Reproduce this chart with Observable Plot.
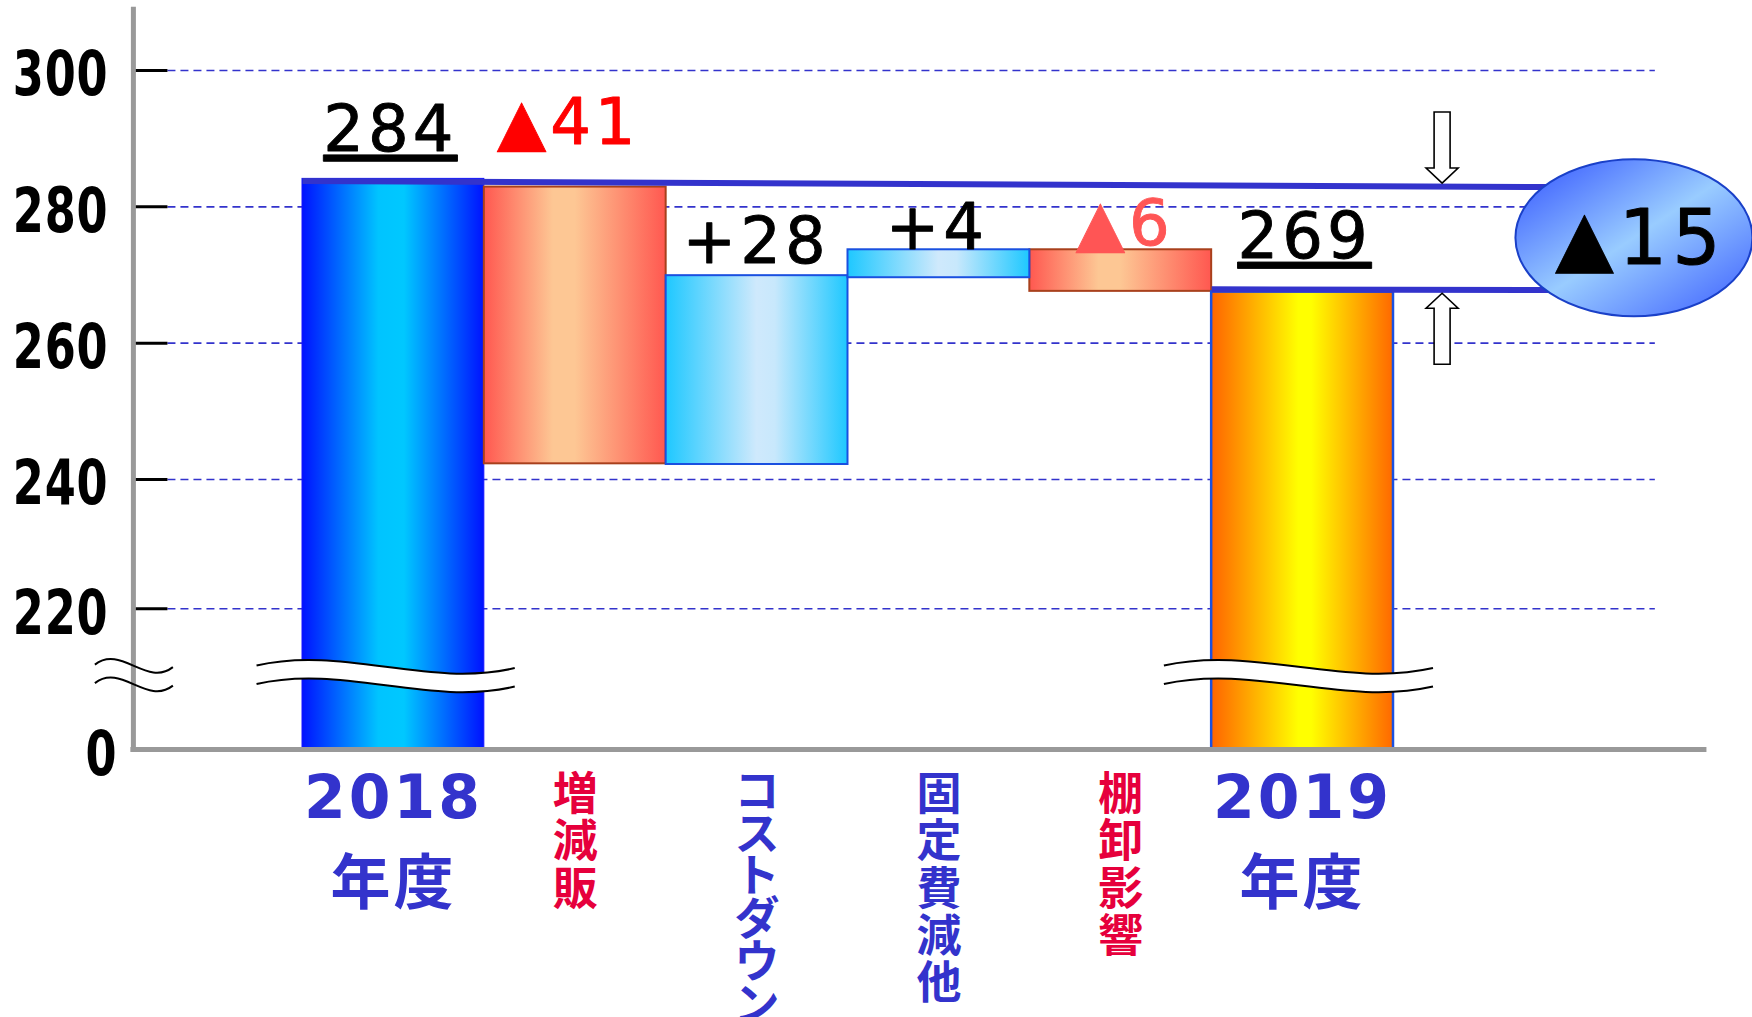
<!DOCTYPE html>
<html><head><meta charset="utf-8">
<script src="https://cdn.jsdelivr.net/npm/d3@7"></script>
<script src="https://cdn.jsdelivr.net/npm/@observablehq/plot@0.6"></script>
<style>
html,body{margin:0;padding:0;background:#fff;}
#chart svg{display:block}
</style></head>
<body>
<svg width="0" height="0" style="position:absolute"><defs>
  <linearGradient id="gStart" x1="0" y1="0" x2="1" y2="0">
    <stop offset="0" stop-color="#0012ff"/><stop offset="0.42" stop-color="#00c4ff"/>
    <stop offset="0.56" stop-color="#00c8ff"/><stop offset="1" stop-color="#0012ff"/>
  </linearGradient>
  <linearGradient id="gRed" x1="0" y1="0" x2="1" y2="0">
    <stop offset="0" stop-color="#ff5850"/><stop offset="0.38" stop-color="#fdc794"/>
    <stop offset="0.5" stop-color="#fdc794"/><stop offset="1" stop-color="#ff5850"/>
  </linearGradient>
  <linearGradient id="gCyan" x1="0" y1="0" x2="1" y2="0">
    <stop offset="0" stop-color="#1ec8ff"/><stop offset="0.5" stop-color="#cfe9fc"/>
    <stop offset="0.6" stop-color="#c8e8fc"/><stop offset="1" stop-color="#1ec8ff"/>
  </linearGradient>
  <linearGradient id="gEnd" x1="0" y1="0" x2="1" y2="0">
    <stop offset="0" stop-color="#ff6400"/><stop offset="0.48" stop-color="#ffff00"/>
    <stop offset="0.55" stop-color="#ffff00"/><stop offset="1" stop-color="#ff6800"/>
  </linearGradient>
  <linearGradient id="gEllipse" x1="0" y1="0" x2="1" y2="1">
    <stop offset="0" stop-color="#3050ff"/><stop offset="0.5" stop-color="#99ccff"/>
    <stop offset="1" stop-color="#3a5cff"/>
  </linearGradient>
</defs></svg>
<div id="chart"></div>
<script>
// ---------- data ----------
const categories  = ["2018年度", "増減販", "コストダウン", "固定費減他", "棚卸影響", "2019年度"];
const barFrom     = [0, 282.9, 242.2, 269.6, 273.7, 0];
const barTo       = [284.1, 242.3, 269.9, 273.7, 267.6, 267.5];
const barKind     = ["start", "decrease", "increase", "increase", "decrease", "end"];
const valueLabels = ["284", "▲41", "+28", "+4", "▲6", "269"];
const yTickValues = [0, 220, 240, 260, 280, 300];
const gridValues  = [220, 240, 260, 280, 300];
const totalChangeLabel = "▲15";
const compareFrom = [283.8, 267.9];   // comparison lines: level at the start bar / end bar
const compareTo   = [282.9, 267.8];   // level where they enter the ellipse

// ---------- layout (x in category-index units, y in value units) ----------
const axisX = -0.93, tickEnd = -0.74, gridEnd = 7.44, xAxisEnd = 7.71, axisTop = 308.9;
const lineEnd = 6.85;
const compareStartX = [0, 5];
const ellipse = {x: 7.325, y: 275.4, rx: 118.5, ry: 78.5};
const arrowX = 6.27;
const breakY = 114;
const barBreaks = [[-0.25, 1.17], [4.74, 6.22]];
const labelDx = [-3, -7, -1, -2, 4, 2];
const labelDy = [-28, -43, -13, -1, -5, -34];
const labelColor = ["#000", "#ff0000", "#000", "#000", "#ff5555", "#000"];
const catLineHeight = [1.43, 1.05, 0.95, 1.05, 1.05, 1.43];

const steps = categories.map((name, i) => ({name, i, from: barFrom[i], to: barTo[i], kind: barKind[i], label: valueLabels[i]}));

const barStyle = {
  start:    {fill: "url(#gStart)", stroke: "#1414ff", strokeWidth: 1},
  decrease: {fill: "url(#gRed)",   stroke: "#a8401c", strokeWidth: 2},
  increase: {fill: "url(#gCyan)",  stroke: "#1a50e0", strokeWidth: 2},
  end:      {fill: "url(#gEnd)",   stroke: "#1a50e0", strokeWidth: 2.5}
};

const catText = d => /^\d/.test(d.name) ? d.name.replace("年度", "\n年度") : [...d.name].join("\n");
const blue = "#3333cc", crimson = "#e6003c";
const tickFont = "DejaVu Sans Condensed, DejaVu Sans";

const marks = [
  Plot.ruleY(gridValues, {x1: tickEnd, x2: gridEnd, stroke: blue, strokeWidth: 1.6, strokeDasharray: "8,5"}),
  Plot.ruleY(gridValues, {x1: axisX, x2: tickEnd, stroke: "#000", strokeWidth: 3}),
  ...Object.entries(barStyle).map(([kind, s]) =>
    Plot.rect(steps.filter(d => d.kind === kind), {x1: d => d.i, x2: d => d.i + 1, y1: "from", y2: "to", ...s})),
  Plot.link([0, 1], {
    x1: j => compareStartX[j], y1: j => compareFrom[j], x2: () => lineEnd, y2: j => compareTo[j],
    stroke: blue, strokeWidth: 6
  }),
  Plot.ruleX([axisX], {y1: 0, y2: axisTop, stroke: "#999", strokeWidth: 5, strokeLinecap: "square"}),
  Plot.ruleY([0], {x1: axisX, x2: xAxisEnd, stroke: "#999", strokeWidth: 5, strokeLinecap: "square"}),
  Plot.text(yTickValues.filter(v => v > 0), {
    x: () => axisX, y: d => d, text: d => String(d), textAnchor: "end", dx: -25, dy: 5,
    fontSize: 62, fontWeight: "bold", fontFamily: tickFont, fill: "#000", ariaDescription: "ytick"
  }),
  Plot.text(yTickValues.filter(v => v === 0), {
    x: () => axisX, y: d => d, text: d => String(d), textAnchor: "end", dx: -16, dy: 6,
    fontSize: 62, fontWeight: "bold", fontFamily: tickFont, fill: "#000", ariaDescription: "ytick"
  }),
  ...steps.map((s, i) => Plot.text([s], {
    x: d => d.i + 0.5, y: d => Math.max(d.from, d.to), text: "label", lineAnchor: "bottom",
    dx: labelDx[i], dy: labelDy[i], fill: labelColor[i], stroke: labelColor[i], strokeWidth: 0.9,
    fontSize: 64, fontFamily: "DejaVu Sans",
    ariaDescription: (s.kind === "start" || s.kind === "end") ? "value-underlined" : "value"
  })),
  ...steps.map((s, i) => {
    const isYear = s.kind === "start" || s.kind === "end";
    return Plot.text([s], {
      x: d => d.i + 0.5, text: catText, frameAnchor: "bottom", lineAnchor: "top",
      dy: isYear ? 8 : 27, lineHeight: catLineHeight[i],
      fill: s.kind === "decrease" ? crimson : blue,
      fontSize: isYear ? 60 : 45, fontWeight: "bold",
      fontFamily: isYear ? "DejaVu Sans, Noto Sans CJK JP" : "Noto Sans CJK JP",
      ariaDescription: isYear ? "year" : "category"
    });
  }),
  Plot.text([totalChangeLabel], {
    x: () => ellipse.x, y: () => ellipse.y, text: d => d, lineAnchor: "middle", dx: 6, dy: 1,
    fill: "#000", stroke: "#000", strokeWidth: 1, fontSize: 76, fontFamily: "DejaVu Sans", ariaDescription: "delta"
  })
];

const plot = Plot.plot({
  width: 1752, height: 1017,
  marginLeft: 133, marginRight: 48, marginTop: 9, marginBottom: 268,
  x: {type: "linear", domain: [0, 6], range: [302, 1393], axis: null},
  y: {type: "linear", domain: [0, 220, 240, 300], range: [749, 608.3, 479, 70], axis: null},
  style: {background: "white", overflow: "visible"},
  marks
});

const svg = d3.select(plot);
const sx = plot.scale("x"), sy = plot.scale("y");
const group = name => svg.selectAll(`g[aria-description="${name}"]`);

group("ytick").selectAll("text").style("letter-spacing", "1px").each(function() {
  const t = d3.select(this);
  let tr = t.attr("transform");
  if (!tr) {
    const x = +t.attr("x") || 0, y = +t.attr("y") || 0;
    t.attr("x", null).attr("y", null);
    tr = `translate(${x},${y})`;
  }
  t.attr("transform", tr + " scale(0.8,1)");
});
svg.selectAll('g[aria-description^="value"] text').style("letter-spacing", "4px");
group("value-underlined").selectAll("text").style("text-decoration", "underline");
group("year").selectAll("text").style("letter-spacing", "3px");
group("delta").selectAll("text").style("letter-spacing", "5px");

// ellipse behind the total-change label
const deltaNode = group("delta").node();
const ell = d3.create("svg:ellipse")
  .attr("cx", sx.apply(ellipse.x)).attr("cy", sy.apply(ellipse.y))
  .attr("rx", ellipse.rx).attr("ry", ellipse.ry)
  .attr("fill", "url(#gEllipse)").attr("stroke", "#1a40c8").attr("stroke-width", 2).node();
if (deltaNode) deltaNode.parentNode.insertBefore(ell, deltaNode); else plot.insertBefore(ell, plot.lastChild);

// hollow block arrows pointing at the two comparison lines
function levelAt(j, x) { return compareFrom[j] + (compareTo[j] - compareFrom[j]) * (x - compareStartX[j]) / (lineEnd - compareStartX[j]); }
function blockArrow(tx, ty, dir) {
  const hw = 16, sw = 8, hl = 15, len = 71;
  const pts = [[0, 0], [hw, -dir * hl], [sw, -dir * hl], [sw, -dir * len], [-sw, -dir * len], [-sw, -dir * hl], [-hw, -dir * hl]];
  svg.append("path").attr("d", "M" + pts.map(p => (tx + p[0]) + "," + (ty + p[1])).join("L") + "Z")
    .attr("fill", "#fff").attr("stroke", "#000").attr("stroke-width", 1.6).attr("stroke-linejoin", "miter");
}
const ax = sx.apply(arrowX);
blockArrow(ax, sy.apply(levelAt(0, arrowX)) - 3, 1);
blockArrow(ax, sy.apply(levelAt(1, arrowX)) + 4, -1);

// wavy axis-break marks
function curve(x0, x1, yc, k, tilt) {
  return {p0: [x0, yc - tilt / 2], c1: [x0 + (x1 - x0) / 3, yc - k], c2: [x0 + 2 * (x1 - x0) / 3, yc + k], p3: [x1, yc + tilt / 2]};
}
const P = p => p[0] + "," + p[1];
function drawBreak(x0, x1, yc, band) {
  const k = 21.5, tilt = 2.5, gap = 18.5;
  const up = curve(x0, x1, yc - gap / 2, k, tilt), lo = curve(x0, x1, yc + gap / 2, k, tilt);
  if (band) {
    svg.append("path").attr("d",
      `M${P(up.p0)}C${P(up.c1)} ${P(up.c2)} ${P(up.p3)}L${P(lo.p3)}C${P(lo.c2)} ${P(lo.c1)} ${P(lo.p0)}Z`)
      .attr("fill", "#fff").attr("stroke", "none");
  }
  for (const c of [up, lo]) {
    svg.append("path").attr("d", `M${P(c.p0)}C${P(c.c1)} ${P(c.c2)} ${P(c.p3)}`)
      .attr("fill", "none").attr("stroke", "#000").attr("stroke-width", 2);
  }
}
const byc = sy.apply(breakY);
for (const [a, b] of barBreaks) drawBreak(sx.apply(a), sx.apply(b), byc, true);
const axPx = sx.apply(axisX);
drawBreak(axPx - 38, axPx + 40, byc - 1, false);

document.getElementById("chart").appendChild(plot);
</script>
</body></html>
